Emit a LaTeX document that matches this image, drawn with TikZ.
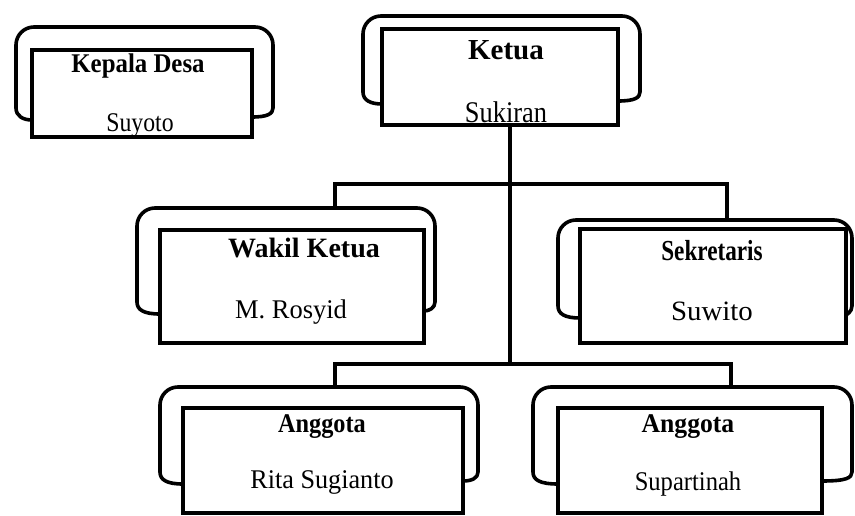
\documentclass[tikz,border=0pt]{standalone}
\usepackage{fontspec}
\usepackage{graphicx}
\setmainfont{Liberation Serif}
\tikzset{
  inbox/.style={draw, line width=4pt, fill=white, inner sep=0pt},
  outer/.style={line width=3.6pt, line cap=round, line join=round},
  conn/.style={line width=4pt},
  ttl/.style={anchor=base, inner sep=0pt, font=\bfseries\fontsize{27}{30}\selectfont},
  nm/.style={anchor=base, inner sep=0pt, font=\fontsize{27}{30}\selectfont},
}
% #1 name, #2 L, #3 R, #4 T, #5 yb, #6 iL, #7 iR, #8 iT, #9 iB
\newcommand\orgbox[9]{%
  \draw[outer] (#6,#5+12) .. controls (#2+7,#5+12) and (#2,#5+8) .. (#2,#5)
     [rounded corners=18pt] -- (#2,#4) -- (#3,#4) [sharp corners] -- (#3,#5)
     .. controls (#3,#5+6) and (#3-6,#5+9) .. (#7,#5+9);
  \node[inbox, minimum width={#7-#6}, minimum height={#9-#8}] (#1)
     at ({(#6+#7)/2},{(#8+#9)/2}) {};
}
\begin{document}
\begin{tikzpicture}[x=1pt, y=-1pt]
\clip (0,0) rectangle (855,516);
\fill[white] (0,0) rectangle (855,516);

\orgbox{kades}{16}{273}{27}{108}{32}{252}{50}{137}
\orgbox{ketua}{363}{640}{16}{92}{382}{618}{29}{125}
\orgbox{wakil}{137}{435}{208}{302}{160}{424}{230}{343}
\orgbox{sekr}{558}{852}{220}{306}{580}{846}{229}{343}
\orgbox{angA}{160}{478}{387}{472}{183}{463}{408}{513}
\orgbox{angB}{533}{852}{387}{472}{558}{822}{408}{513}

% connectors
\coordinate (j2) at (510,364);
\coordinate (w1) at (335,184); \coordinate (w2) at (335,208);
\coordinate (s1) at (727,184); \coordinate (s2) at (727,220);
\coordinate (a1) at (335,364); \coordinate (a2) at (335,387);
\coordinate (b1) at (731,364); \coordinate (b2) at (731,387);
\draw[conn] ([xshift=10pt]ketua.south) -- (j2);
\draw[conn] (w2) -- (w1) -- (s1) -- (s2);
\draw[conn] (a2) -- (a1) -- (b1) -- (b2);

% texts
\node[ttl] (kadesT) at (138,73) {\scalebox{0.92}[1]{Kepala Desa}};
\node[nm]  (kadesN) at (140,132) {\scalebox{0.88}[1]{Suyoto}};
\node[ttl, font=\bfseries\fontsize{29}{32}\selectfont] (ketuaT) at (506,60) {Ketua};
\node[nm, font=\fontsize{30}{33}\selectfont] (ketuaN) at (506,123) {\scalebox{0.88}[1]{Sukiran}};
\node[ttl, font=\bfseries\fontsize{28}{31}\selectfont] (wakilT) at (304,258) {Wakil Ketua};
\node[nm]  (wakilN) at (291,318) {\scalebox{0.98}[1]{M. Rosyid}};
\node[ttl, font=\bfseries\fontsize{29}{32}\selectfont] (sekrT) at (712,260) {\scalebox{0.8}[1]{Sekretaris}};
\node[nm, font=\fontsize{28}{31}\selectfont] (sekrN) at (712,320) {\scalebox{1.03}[1]{Suwito}};
\node[ttl] (angAT) at (322,432) {\scalebox{0.9}[1]{Anggota}};
\node[nm]  (angAN) at (322,488) {\scalebox{0.97}[1]{Rita Sugianto}};
\node[ttl] (angBT) at (688,432) {\scalebox{0.95}[1]{Anggota}};
\node[nm]  (angBN) at (688,490) {\scalebox{0.91}[1]{Supartinah}};
\end{tikzpicture}
\end{document}
